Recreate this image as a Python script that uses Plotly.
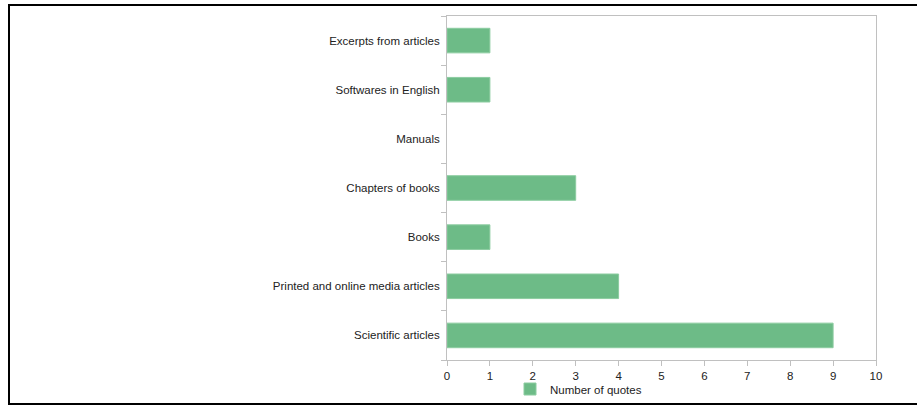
import plotly.graph_objects as go

categories = [
    "Scientific articles",
    "Printed and online media articles",
    "Books",
    "Chapters of books",
    "Manuals",
    "Softwares in English",
    "Excerpts from articles",
]
quotes = [9, 4, 1, 3, 0, 1, 1]
series_name = "Number of quotes"
x_ticks = list(range(0, 11))

FONT = "Liberation Sans, Arial, sans-serif"
TXT = "#222222"
AXIS = "#c0c0c0"

fig = go.Figure(
    go.Bar(
        x=quotes,
        y=categories,
        orientation="h",
        name=series_name,
        marker=dict(
            color="#6dbb87",
            line=dict(color="#8ccca0", width=[1 if v > 0 else 0 for v in quotes]),
        ),
        showlegend=True,
    )
)

L, R, T, B = 447, 876, 16, 360
W, H = 917, 407
pw, ph = R - L, B - T

def px_x(p):
    return (p - L) / pw

def px_y(p):
    return (B - p) / ph

fig.add_shape(
    type="rect", xref="paper", yref="paper",
    x0=px_x(9), x1=px_x(940), y0=px_y(404), y1=px_y(5),
    line=dict(color="black", width=2), fillcolor="rgba(0,0,0,0)", layer="above",
)

fig.update_layout(
    width=W, height=H,
    margin=dict(l=L, r=W - R, t=T, b=H - B, pad=0, autoexpand=False),
    paper_bgcolor="white", plot_bgcolor="white",
    font=dict(family=FONT, size=11.5, color=TXT),
    bargap=0.5,
    showlegend=True,
    legend=dict(
        orientation="h", x=px_x(510), xanchor="left", y=px_y(389), yanchor="middle",
        font=dict(family=FONT, size=11.5, color=TXT), itemwidth=30,
        bgcolor="rgba(0,0,0,0)",
    ),
    xaxis=dict(
        range=[0, 10], tickmode="array", tickvals=x_ticks,
        ticktext=[str(v) for v in x_ticks],
        showgrid=False, zeroline=False, showline=True, linecolor=AXIS, linewidth=1,
        mirror=True, ticks="outside", ticklen=5, tickcolor=AXIS,
        tickfont=dict(family=FONT, size=11.5, color=TXT),
    ),
    yaxis=dict(
        categoryorder="array", categoryarray=categories,
        showgrid=False, zeroline=False, showline=True, linecolor=AXIS, linewidth=1,
        mirror=True, ticks="outside", ticklen=5, tickcolor=AXIS,
        tickson="boundaries", ticklabelstandoff=4,
        tickfont=dict(family=FONT, size=11.5, color=TXT),
    ),
)

fig.write_html(
    "out.html",
    config={"displayModeBar": False},
    post_script="document.body.style.margin='0px';document.body.style.overflow='hidden';",
)
